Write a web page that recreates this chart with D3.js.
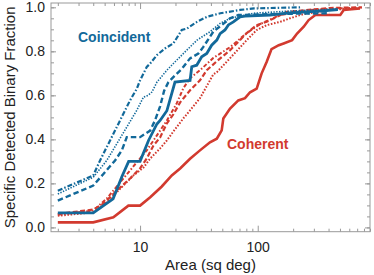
<!DOCTYPE html>
<html>
<head>
<meta charset="utf-8">
<script src="https://cdn.jsdelivr.net/npm/d3@7"></script>
<style>
body { margin: 0; background: #fff; }
svg { font-family: "Liberation Sans", Arial, sans-serif; }
</style>
</head>
<body>
<svg id="svg1" width="374" height="275"></svg>
<script>
// area (sq deg), fraction pairs
blue_solid = [[2,0.066],[4,0.066],[5.9,0.13],[7,0.23],[8,0.30],[10,0.30],[11.8,0.395],[13.9,0.47],[14.8,0.486],[16.9,0.53],[19.8,0.66],[26.6,0.668],[27.5,0.73],[30.3,0.737],[33.4,0.775],[36.9,0.79],[40.6,0.828],[44.9,0.851],[47.9,0.88],[52.7,0.897],[56.3,0.92],[62.1,0.934],[70.8,0.957],[78,0.96],[127,0.965],[188,0.975],[338,0.983],[480,0.99]];
blue_dashed = [[2,0.122],[4,0.19],[4.88,0.243],[6.13,0.304],[7,0.35],[7.71,0.41],[10,0.41],[12.2,0.44],[13.4,0.486],[14.8,0.55],[16,0.62],[17.4,0.66],[19.8,0.69],[22.6,0.72],[26.6,0.768],[31.3,0.79],[34.5,0.82],[42,0.89],[49.4,0.919],[58.2,0.95],[68.4,0.965],[143,0.97],[411,0.973]];
blue_dotted = [[2,0.152],[4,0.228],[5.21,0.304],[6.34,0.38],[7.71,0.456],[9.38,0.532],[10.7,0.592],[11.7,0.6],[12.6,0.615],[13.9,0.66],[16.9,0.714],[20.5,0.76],[24.9,0.805],[30.5,0.851],[39.3,0.889],[47.9,0.927],[58.2,0.95],[92.5,0.973],[188,0.983],[454,0.992]];
blue_dashdot = [[2,0.167],[4,0.236],[4.57,0.304],[5.56,0.395],[6.76,0.486],[7.46,0.532],[8.22,0.577],[9.38,0.63],[10,0.668],[11.4,0.729],[12.2,0.745],[13.9,0.783],[16.3,0.813],[19.2,0.836],[22.6,0.897],[25.1,0.904],[30.5,0.934],[37.1,0.957],[48.1,0.973],[70.8,0.988],[93.1,0.995],[229,1.0]];

red_solid = [[2,0.023],[4,0.023],[5.93,0.046],[7.96,0.099],[10,0.099],[12.2,0.137],[15.3,0.186],[18.6,0.236],[21.9,0.268],[26.6,0.312],[32.3,0.35],[39.3,0.387],[44.9,0.403],[49.4,0.441],[51,0.495],[58.2,0.54],[68.4,0.577],[78,0.587],[86.1,0.614],[98,0.631],[108,0.70],[119,0.752],[131,0.81],[151,0.828],[166,0.836],[196,0.851],[216,0.881],[246,0.912],[271,0.942],[309,0.965],[503,0.965],[538,0.988],[740,0.995]];
red_dashed = [[2,0.061],[4,0.081],[4.88,0.108],[6.34,0.167],[8.22,0.222],[10,0.268],[11.4,0.313],[13,0.372],[14.8,0.409],[16.9,0.473],[19.2,0.514],[21.9,0.568],[26.6,0.623],[32.3,0.668],[36.9,0.714],[44.9,0.755],[58.2,0.805],[80.7,0.883],[98,0.919],[119,0.934],[177,0.979],[411,0.997],[769,1.0]];
red_dotted = [[2,0.053],[4,0.068],[5.21,0.114],[6.76,0.175],[8.77,0.236],[10.7,0.272],[12.2,0.313],[14.8,0.359],[16.9,0.395],[19.2,0.436],[23.3,0.495],[26.6,0.532],[32.3,0.587],[42,0.696],[44.9,0.705],[58.2,0.769],[80.7,0.851],[98,0.897],[119,0.919],[155,0.934],[188,0.95],[243,0.969],[411,0.988],[769,0.997]];
red_dashdot = [[2,0.058],[4,0.076],[5.21,0.131],[6.76,0.204],[8.77,0.277],[11.4,0.35],[13.9,0.418],[16.9,0.486],[20.5,0.564],[23.3,0.632],[26.6,0.678],[32.3,0.714],[41.7,0.769],[58.2,0.819],[80.7,0.883],[105,0.924],[155,0.965],[278,0.988],[608,0.997]];

x_major = [10, 100];
x_minor = [2,3,4,5,6,7,8,9,20,30,40,50,60,70,80,90,200,300,400,500,600,700,800,900];
y_major = [0, 0.2, 0.4, 0.6, 0.8, 1.0];
y_minor = d3.range(0, 1.0001, 0.05);

blue = "#12699a";
red = "#d23a2f";

settings = {
	left: 51,
	top: 3,
	width: 319,
	height: 228.7
}

var x = d3.scaleLog().domain([1.75, 900]).range([0, settings.width]);
var y = d3.scaleLinear().domain([-0.0195, 1.0196]).range([settings.height, 0]);

svg = d3.select("#svg1");

g = svg.append("g")
	.attr("transform", "translate(" + settings.left + "," + settings.top + ")");

g.append("clipPath").attr("id", "clip")
	.append("rect").attr("width", settings.width).attr("height", settings.height);

series = [
	{ data: red_dotted, color: red, width: 2, dash: "1.6,1.6" },
	{ data: red_dashdot, color: red, width: 2, dash: "4,2,1.5,2" },
	{ data: red_dashed, color: red, width: 2.2, dash: "5,2.5" },
	{ data: red_solid, color: red, width: 2.6, dash: null },
	{ data: blue_dotted, color: blue, width: 1.6, dash: "1.4,1.4" },
	{ data: blue_dashdot, color: blue, width: 2.2, dash: "5,2,1.5,2" },
	{ data: blue_dashed, color: blue, width: 2.4, dash: "5.5,3" },
	{ data: blue_solid, color: blue, width: 2.8, dash: null }
];

var line = d3.line().x(d => x(d[0])).y(d => y(d[1]));

lines = g.append("g").attr("clip-path", "url(#clip)");
series.forEach(function(s) {
	lines.append("path")
		.attr("d", line(s.data))
		.attr("fill", "none")
		.attr("stroke", s.color)
		.attr("stroke-width", s.width)
		.attr("stroke-dasharray", s.dash)
		.attr("stroke-linejoin", "miter");
});

// frame
g.append("rect")
	.attr("width", settings.width).attr("height", settings.height)
	.attr("fill", "none").attr("stroke", "#999").attr("stroke-width", 1);

function style_axis(sel) {
	sel.select(".domain").remove();
	sel.selectAll("line").attr("stroke", "#999");
	sel.selectAll("text").attr("fill", "#222").style("font-size", "14px");
}

// bottom
g.append("g").attr("transform", "translate(0," + settings.height + ")")
	.call(d3.axisBottom(x).tickValues(x_major).tickSize(-6).tickPadding(10).tickFormat(d3.format("d")))
	.call(style_axis);
g.append("g").attr("transform", "translate(0," + settings.height + ")")
	.call(d3.axisBottom(x).tickValues(x_minor).tickSize(-3).tickFormat(""))
	.call(style_axis);
// top
g.append("g")
	.call(d3.axisTop(x).tickValues(x_major).tickSize(-6).tickFormat(""))
	.call(style_axis);
g.append("g")
	.call(d3.axisTop(x).tickValues(x_minor).tickSize(-3).tickFormat(""))
	.call(style_axis);
// left
g.append("g")
	.call(d3.axisLeft(y).tickValues(y_major).tickSize(-5).tickPadding(6).tickFormat(d3.format(".1f")))
	.call(style_axis);
g.append("g")
	.call(d3.axisLeft(y).tickValues(y_minor).tickSize(-3).tickFormat(""))
	.call(style_axis);
// right
g.append("g").attr("transform", "translate(" + settings.width + ",0)")
	.call(d3.axisRight(y).tickValues(y_major).tickSize(-5).tickFormat(""))
	.call(style_axis);
g.append("g").attr("transform", "translate(" + settings.width + ",0)")
	.call(d3.axisRight(y).tickValues(y_minor).tickSize(-3).tickFormat(""))
	.call(style_axis);

// labels
g.append("text")
	.attr("x", 27).attr("y", 38.7)
	.attr("fill", blue).style("font-size", "14px").style("font-weight", "bold")
	.text("Coincident");
g.append("text")
	.attr("x", 176).attr("y", 146)
	.attr("fill", red).style("font-size", "14px").style("font-weight", "bold")
	.text("Coherent");

svg.append("text")
	.attr("x", settings.left + settings.width / 2).attr("y", 270)
	.attr("text-anchor", "middle").attr("fill", "#222").style("font-size", "15px")
	.text("Area (sq deg)");

svg.append("text")
	.attr("transform", "translate(15," + (settings.top + settings.height / 2) + ") rotate(-90)")
	.attr("text-anchor", "middle").attr("fill", "#222").style("font-size", "15px")
	.text("Specific Detected Binary Fraction");
</script>
</body>
</html>
